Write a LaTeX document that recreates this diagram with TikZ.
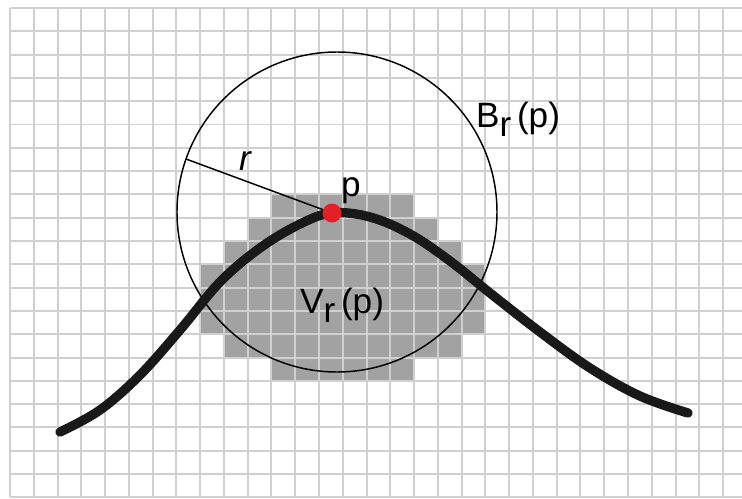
\documentclass[tikz,border=0pt]{standalone}
\usepackage{fontspec}
\setmainfont{Liberation Sans}
\definecolor{gridc}{RGB}{208,208,208}
\definecolor{cellc}{RGB}{162,162,162}
\definecolor{dotc}{RGB}{226,32,38}
\newcommand{\subr}{\raisebox{-0.27em}{r}\hspace{0.16em}}
\begin{document}
\begin{tikzpicture}[x=0.03cm,y=-0.03cm,
  gridline/.style={draw=gridc,line width=1.7pt},
  cellfill/.style={fill=cellc},
  thincirc/.style={draw=black,line width=1.25pt},
  curveline/.style={draw=black!90,line width=8pt,line cap=round},
  lbl/.style={inner sep=0pt,anchor=base west,font=\fontsize{30}{32}\selectfont}]
\useasboundingbox[fill=white] (0,0) rectangle (742,499);
\def\gx{23.77}
\def\gy{23.3}
% gray cells: row / first col / last col
\foreach \j/\a/\b in {8/11/16,9/10/17,10/9/18,11/8/19,12/8/19,13/8/19,14/9/18,15/11/16}{
  \fill[cellfill] ({10+\gx*\a},{8+\gy*\j}) rectangle ({10+\gx*(\b+1)},{8+\gy*(\j+1)});
}
% grid
\foreach \k in {0,...,30}{
  \draw[gridline] ({10+\gx*\k},8) -- ({10+\gx*\k},497);
}
\foreach \k in {0,...,21}{
  \draw[gridline] (10,{8+\gy*\k}) -- (742,{8+\gy*\k});
}
% ball
\coordinate (c) at (337,212);
\coordinate (p) at (332,213);
\coordinate (rend) at (186,159);
\draw[thincirc] (c) circle (160);
\draw[thincirc] (rend) -- (p);
% curve
\draw[curveline] plot[smooth,tension=0.6] coordinates {(60,432) (100,410) (140,375) (180,330) (220,282) (260,248) (300,224) (332,213) (370,217) (410,234) (450,261) (490,293) (540,332) (590,368) (640,396) (688,413)};
% point
\fill[dotc] (p) circle (9.5);
% labels
\node[lbl] (rl) at (239,170) {\itshape r};
\node[lbl] (pl) at (341,196) {p};
\node[lbl] (bl) at (476,127) {B\subr(p)};
\node[lbl] (vl) at (300,313) {V\subr(p)};
\end{tikzpicture}
\end{document}
